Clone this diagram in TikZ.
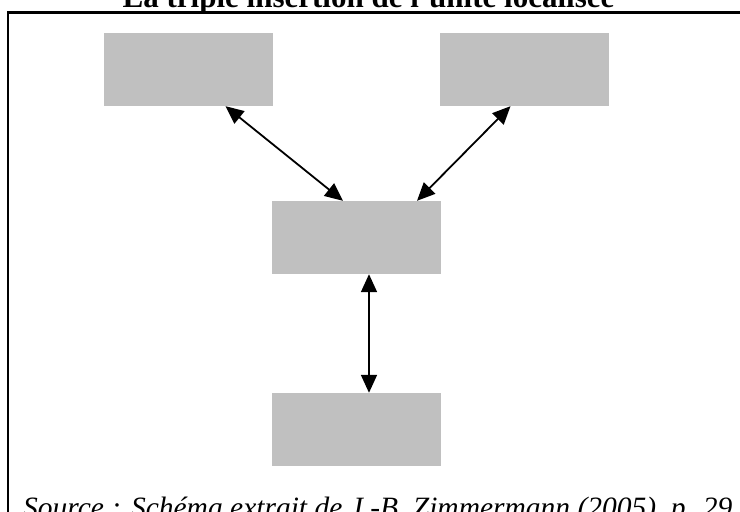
\documentclass[tikz,border=0pt]{standalone}
\usepackage{fontspec}
\setmainfont{Liberation Serif}
\usetikzlibrary{arrows.meta}
\definecolor{boxgray}{RGB}{192,192,192}
\begin{document}
\begin{tikzpicture}[x=1pt,y=-1pt,
  graybox/.style={fill=boxgray,draw=none,minimum width=169pt,minimum height=73pt,inner sep=0pt},
  dblarrow/.style={line width=1.8pt,{Triangle[length=18pt,width=16pt]}-{Triangle[length=18pt,width=16pt]}},
  frameline/.style={line width=2.4pt}]
\useasboundingbox (0,0) rectangle (740,512);
\clip (0,0) rectangle (740,512);
\fill[white] (0,0) rectangle (740,512);
\coordinate (fa) at (760,12.5);
\coordinate (fb) at (8,12.5);
\coordinate (fc) at (8,540);
\draw[frameline] (fa) -- (fb) -- (fc);
\node[anchor=base,font=\fontsize{31}{37}\selectfont\bfseries] (title) at (368.5,7) {La triple insertion de l'unité localisée};
\node[graybox] (tl) at (188.5,69.5) {};
\node[graybox] (tr) at (524.5,69.5) {};
\node[graybox] (mid) at (356.5,237.5) {};
\node[graybox] (bot) at (356.5,429.5) {};
\draw[dblarrow] ([xshift=37pt]tl.south) -- ([xshift=-13.5pt]mid.north);
\draw[dblarrow] ([xshift=-14pt]tr.south) -- ([xshift=60.5pt]mid.north);
\draw[dblarrow] ([xshift=12.5pt]mid.south) -- ([xshift=12.5pt]bot.north);
\node[anchor=base west,inner sep=0pt,font=\fontsize{29.5}{35}\selectfont\itshape] (src) at (23,517) {Source : Schéma extrait de J.-B. Zimmermann (2005), p. 29};
\end{tikzpicture}
\end{document}
